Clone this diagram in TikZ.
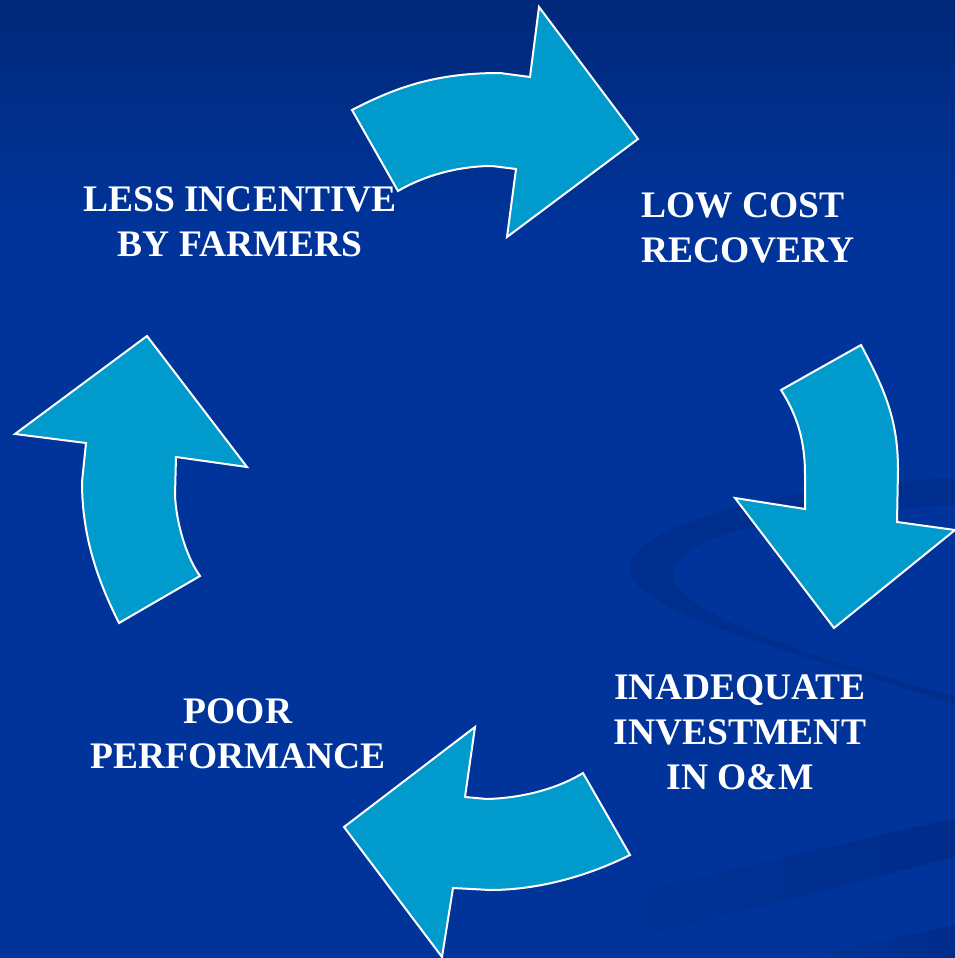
\documentclass[tikz,border=0pt]{standalone}
\usepackage{fontspec}
\setmainfont{Liberation Serif}
\definecolor{bgblue}{RGB}{0,52,154}
\definecolor{bgtop}{RGB}{0,40,122}
\definecolor{swooshblue}{RGB}{0,44,138}
\definecolor{arrowfill}{RGB}{0,155,204}
\begin{document}
\begin{tikzpicture}[x=1pt,y=-1pt,
  cyclearrow/.style={fill=arrowfill,draw=white,line width=2pt,line join=miter},
  cyclelabel/.style={text=white,font=\bfseries\fontsize{37.5}{45}\selectfont,inner sep=0pt},
  swoosh/.style={fill=swooshblue,opacity=0.7}]
\useasboundingbox (0,0) rectangle (955,958);
% background
\fill[bgblue] (0,0) rectangle (955,958);
\shade[top color=bgtop,bottom color=bgblue] (0,0) rectangle (955,230);
% faint swooshes
\fill[swoosh] (955,478) .. controls (800,485) and (640,520) .. (630,565)
  .. controls (622,612) and (800,652) .. (955,705) -- (955,696)
  .. controls (820,660) and (668,612) .. (673,572)
  .. controls (680,530) and (820,508) .. (955,506) -- cycle;
\shade[left color=bgblue,right color=swooshblue] (560,909) -- (955,818) -- (955,857) -- (560,957) -- cycle;
\shade[left color=bgblue,right color=swooshblue] (800,958) -- (955,925) -- (955,958) -- cycle;
% arrows
\path[cyclearrow] (352,110) .. controls (400,85) and (440,73) .. (500,73) -- (530,77)
  -- (539,7) -- (638,139) -- (507,237) -- (516,169) -- (492,166)
  .. controls (460,166) and (425,175) .. (398,191) -- cycle;
\path[cyclearrow] (781,390) -- (861,345) .. controls (885,390) and (898,420) .. (898,470)
  -- (897,522) -- (955,530) -- (834,628) -- (735,498) -- (805,509) -- (805,475)
  .. controls (805,440) and (797,415) .. (781,390) -- cycle;
\path[cyclearrow] (630,855) .. controls (590,875) and (540,890) .. (490,890) -- (453,888)
  -- (442,957) -- (344,827) -- (475,727) -- (465,797) -- (487,799)
  .. controls (520,798) and (555,790) .. (583,773) -- cycle;
\path[cyclearrow] (119,623) .. controls (100,585) and (82,540) .. (82,482) -- (86,443)
  -- (15,434) -- (147,336) -- (247,467) -- (176,457) -- (175,495)
  .. controls (176,520) and (185,555) .. (200,576) -- cycle;
% labels
\node[cyclelabel,align=center] (less) at (240,222) {LESS INCENTIVE\\BY FARMERS};
\node[cyclelabel,align=left,anchor=west] (low) at (641,228) {LOW COST\\RECOVERY};
\node[cyclelabel,align=center] (inad) at (740,732) {INADEQUATE\\INVESTMENT\\IN O\&M};
\node[cyclelabel,align=center] (poor) at (238,734) {POOR\\PERFORMANCE};
\end{tikzpicture}
\end{document}
